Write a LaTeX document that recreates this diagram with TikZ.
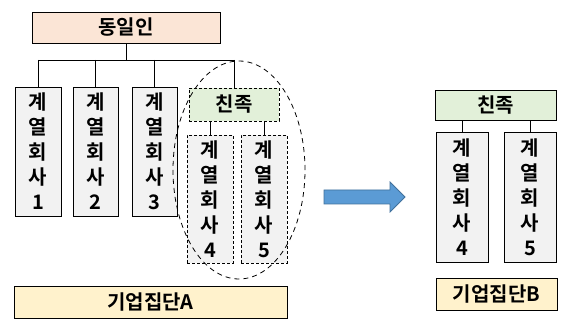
\documentclass[tikz,border=0pt]{standalone}
\usepackage{fontspec}
\setmainfont{Noto Sans CJK KR Bold}
\usetikzlibrary{calc}
\definecolor{peach}{HTML}{FBE5D6}
\definecolor{greyfill}{HTML}{F2F2F2}
\definecolor{kingreen}{HTML}{E2F0D9}
\definecolor{groupyellow}{HTML}{FFF2CC}
\definecolor{arrowblue}{HTML}{5B9BD5}
\definecolor{arrowedge}{HTML}{41719C}
\begin{document}
\begin{tikzpicture}[x=1pt,y=-1pt,
  box/.style={draw=black, line width=0.8pt, inner sep=0pt, font=\fontsize{20}{25}\selectfont},
  colbox/.style={box, fill=greyfill, align=center},
  dbox/.style={dash pattern=on 3pt off 2pt},
  link/.style={draw=black, line width=0.8pt}]
\useasboundingbox (0,0) rectangle (573,328);
\fill[white] (0,0) rectangle (573,328);
% left group
\node[box, fill=peach, minimum width=188pt, minimum height=31pt] (top) at (126,27.5) {동일인};
\node[colbox, minimum width=46pt, minimum height=129pt] (c1) at (38,151.5) {계\\열\\회\\사\\1};
\node[colbox, minimum width=45pt, minimum height=129pt] (c2) at (95.5,151.5) {계\\열\\회\\사\\2};
\node[colbox, minimum width=45pt, minimum height=129pt] (c3) at (154.5,151.5) {계\\열\\회\\사\\3};
\node[box, dbox, fill=kingreen, minimum width=90pt, minimum height=33pt] (kin) at (234,104.5) {친족};
\node[colbox, dbox, minimum width=46pt, minimum height=128pt] (c4) at (210,199) {계\\열\\회\\사\\4};
\node[colbox, dbox, minimum width=46pt, minimum height=128pt] (c5) at (264,199) {계\\열\\회\\사\\5};
\draw[line width=0.8pt, dash pattern=on 5pt off 4pt] (239,170) ellipse [x radius=66pt, y radius=109pt];
\node[box, fill=groupyellow, minimum width=273pt, minimum height=32pt] (ga) at (150.5,302) {기업집단A};
% connectors
\coordinate (bus) at (0,60);
\draw[link] (top.south) -- (top.south |- bus);
\draw[link] (c1.north |- bus) -- (kin.north |- bus);
\draw[link] (c1.north |- bus) -- (c1.north);
\draw[link] (c2.north |- bus) -- (c2.north);
\draw[link] (c3.north |- bus) -- (c3.north);
\draw[link] (kin.north |- bus) -- (kin.north);
\draw[link] (kin.south -| c4) -- (c4.north);
\draw[link] (kin.south -| c5) -- (c5.north);
% arrow
\draw[fill=arrowblue, draw=arrowedge, line width=0.8pt]
  (324,190) -- (390,190) -- (390,182) -- (405,197) -- (390,212) -- (390,204) -- (324,204) -- cycle;
% right group
\node[box, fill=kingreen, minimum width=121pt, minimum height=30pt] (kinb) at (495.5,105) {친족};
\node[colbox, minimum width=52pt, minimum height=130pt] (c4b) at (462,197) {계\\열\\회\\사\\4};
\node[colbox, minimum width=52pt, minimum height=130pt] (c5b) at (530,197) {계\\열\\회\\사\\5};
\node[box, fill=groupyellow, minimum width=121pt, minimum height=32pt] (gb) at (496.5,294) {기업집단B};
\draw[link] (kinb.south -| c4b) -- (c4b.north);
\draw[link] (kinb.south -| c5b) -- (c5b.north);
\end{tikzpicture}
\end{document}
